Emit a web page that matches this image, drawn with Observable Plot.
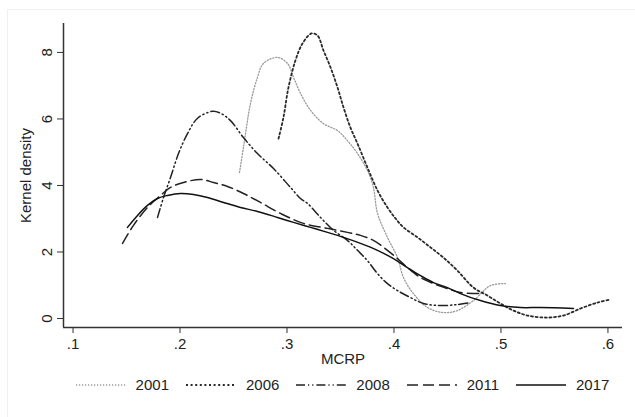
<!DOCTYPE html>
<html><head><meta charset="utf-8">
<script src="https://cdn.jsdelivr.net/npm/d3@7"></script>
<script src="https://cdn.jsdelivr.net/npm/@observablehq/plot@0.6"></script>
<style>
body{margin:0;background:#fff;font-family:"Liberation Sans",Arial,sans-serif;}
#wrap{position:relative;width:635px;height:417px;overflow:hidden;background:#fff}
#border{position:absolute;left:7px;top:9px;width:640px;height:420px;border:1px solid #eef1f1;}
#chart{position:absolute;left:0;top:0}
#legend{position:absolute;top:376px;left:63px;width:559px;display:flex;justify-content:center;align-items:center;font-size:15px;color:#222}
.item{display:flex;align-items:center;margin-right:17px}
.item:last-child{margin-right:0}
.item svg{margin-right:10px}
</style>
</head><body>
<div id="wrap"><div id="border"></div><div id="chart"></div><div id="legend"></div></div>
<script>
// Series: MCRP value and kernel density
const years = ["2001", "2006", "2008", "2011", "2017"];

const x2001 = [0.2556,0.2593,0.2659,0.2724,0.2780,0.2911,0.3005,0.3061,0.3126,0.3220,0.3341,0.3472,0.3565,0.3659,0.3752,0.3808,0.3846,0.3939,0.4033,0.4089,0.4182,0.4313,0.4463,0.4593,0.4743,0.4902,0.5042];
const y2001 = [4.39,5.14,6.47,7.25,7.67,7.85,7.67,7.25,6.77,6.26,5.86,5.65,5.35,4.96,4.45,3.94,3.16,2.44,1.83,1.23,0.75,0.33,0.18,0.24,0.54,0.99,1.05];

const x2006 = [0.2921,0.2967,0.3014,0.3079,0.3145,0.3229,0.3285,0.3341,0.3407,0.3472,0.3528,0.3593,0.3659,0.3752,0.3846,0.3939,0.4014,0.4089,0.4220,0.4341,0.4463,0.4593,0.4743,0.4874,0.4995,0.5117,0.5248,0.5435,0.5584,0.5743,0.5902,0.6023];
const y2006 = [5.41,6.05,6.95,7.76,8.27,8.57,8.51,8.06,7.55,6.95,6.35,5.74,5.26,4.54,3.85,3.34,3.01,2.74,2.44,2.14,1.83,1.44,0.93,0.69,0.45,0.24,0.09,0.03,0.09,0.30,0.48,0.57];

const x2008 = [0.1790,0.1846,0.1911,0.1986,0.2070,0.2164,0.2304,0.2379,0.2472,0.2593,0.2724,0.2874,0.3033,0.3126,0.3192,0.3313,0.3435,0.3565,0.3659,0.3752,0.3846,0.3939,0.4033,0.4154,0.4276,0.4435,0.4593,0.4715];
const y2008 = [3.04,3.64,4.24,4.96,5.56,6.02,6.23,6.17,5.95,5.44,4.96,4.51,3.94,3.61,3.46,3.04,2.65,2.35,2.05,1.74,1.35,1.05,0.84,0.63,0.45,0.39,0.42,0.48];

const x2011 = [0.1463,0.1565,0.1696,0.1818,0.1911,0.2033,0.2192,0.2313,0.2444,0.2593,0.2752,0.2939,0.3154,0.3379,0.3565,0.3687,0.3808,0.3939,0.4033,0.4126,0.4248,0.4369,0.4500,0.4621,0.4827];
const y2011 = [2.26,2.80,3.34,3.70,3.94,4.09,4.18,4.09,3.97,3.76,3.49,3.16,2.86,2.71,2.59,2.50,2.35,2.05,1.80,1.53,1.23,1.05,0.90,0.78,0.75];

const x2017 = [0.1509,0.1603,0.1696,0.1790,0.1883,0.2005,0.2126,0.2257,0.2407,0.2565,0.2724,0.2911,0.3061,0.3220,0.3379,0.3528,0.3687,0.3846,0.3995,0.4126,0.4248,0.4369,0.4500,0.4621,0.4808,0.4995,0.5182,0.5369,0.5678];
const y2017 = [2.74,3.10,3.40,3.61,3.70,3.76,3.73,3.64,3.49,3.34,3.22,3.04,2.89,2.74,2.59,2.44,2.26,2.05,1.80,1.53,1.29,1.08,0.93,0.75,0.54,0.39,0.33,0.33,0.30];

const xTicks = [0.1, 0.2, 0.3, 0.4, 0.5, 0.6];
const yTicks = [0, 2, 4, 6, 8];

const seriesX = {"2001": x2001, "2006": x2006, "2008": x2008, "2011": x2011, "2017": x2017};
const seriesY = {"2001": y2001, "2006": y2006, "2008": y2008, "2011": y2011, "2017": y2017};

const styles = {
  "2001": {stroke: "#9a9a9a", dash: "1.2,1.8", width: 1.3},
  "2006": {stroke: "#2a2a2a", dash: "2,2.6", width: 1.8},
  "2008": {stroke: "#222", dash: "9,3,1.2,3,1.2,3", width: 1.5},
  "2011": {stroke: "#222", dash: "11,5", width: 1.5},
  "2017": {stroke: "#111", dash: null, width: 1.5}
};

const rows = years.flatMap(yr => seriesX[yr].map((x, i) => ({year: yr, x, y: seriesY[yr][i]})));

const xDom = [0.0911, 0.6136];
const yDom = [-0.27, 8.87];

const chart = Plot.plot({
  width: 635,
  height: 370,
  marginLeft: 63,
  marginRight: 13,
  marginTop: 23,
  marginBottom: 43,
  style: {fontFamily: '"Liberation Sans", Arial, sans-serif', fontSize: "15px", color: "#222", background: "transparent"},
  x: {domain: xDom},
  y: {domain: yDom},
  marks: [
    ...years.map(yr => Plot.line(rows.filter(d => d.year === yr), {
      x: "x", y: "y", curve: "catmull-rom",
      stroke: styles[yr].stroke, strokeWidth: styles[yr].width,
      strokeDasharray: styles[yr].dash || undefined
    })),
    Plot.axisX({ticks: xTicks, tickFormat: d => d.toFixed(1).replace(/^0/, ""), tickSize: 6, tickPadding: 5,
      label: "MCRP", labelAnchor: "center", labelOffset: 36, labelArrow: "none", stroke: "#333"}),
    Plot.axisY({ticks: yTicks, tickFormat: d => String(d), tickSize: 6, tickPadding: 6, tickRotate: -90,
      label: "Kernel density", labelAnchor: "center", labelOffset: 43, labelArrow: "none", stroke: "#333"}),
    Plot.ruleX([xDom[0]], {stroke: "#333", strokeWidth: 1.5}),
    Plot.ruleY([yDom[0]], {stroke: "#333", strokeWidth: 1.5})
  ]
});
document.getElementById("chart").appendChild(chart);

const legend = document.getElementById("legend");
for (const yr of years) {
  const s = styles[yr];
  const item = document.createElement("div");
  item.className = "item";
  item.innerHTML = `<svg width="50" height="12"><line x1="0" x2="50" y1="6" y2="6" stroke="${s.stroke}" stroke-width="${s.width}" ${s.dash ? `stroke-dasharray="${s.dash}"` : ""}/></svg><span>${yr}</span>`;
  legend.appendChild(item);
}
</script>
</body></html>
